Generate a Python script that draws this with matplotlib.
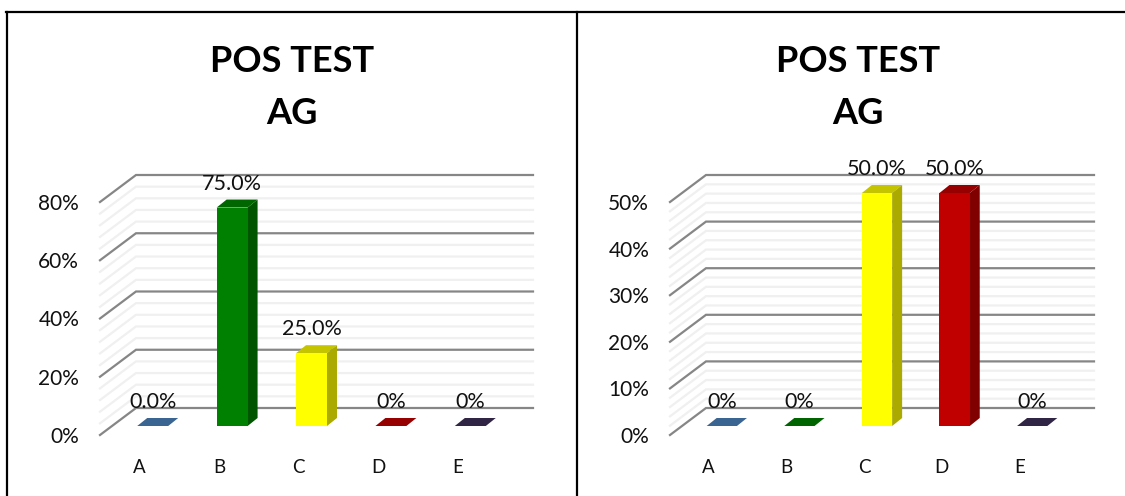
import matplotlib
matplotlib.use("Agg")
import matplotlib.pyplot as plt
from matplotlib.lines import Line2D
from matplotlib.patches import Polygon
from matplotlib.transforms import IdentityTransform

plt.rcParams['font.family'] = ['Lato', 'DejaVu Sans']

TITLE = "POS TEST\nAG"
categories = ["A", "B", "C", "D", "E"]

left_values = [0, 75, 25, 0, 0]
left_labels = ["0.0%", "75.0%", "25.0%", "0%", "0%"]
left_ticks = [0, 20, 40, 60, 80]
left_minor_step = 4

right_values = [0, 0, 50, 50, 0]
right_labels = ["0%", "0%", "50.0%", "50.0%", "0%"]
right_ticks = [0, 10, 20, 30, 40, 50]
right_minor_step = 2

front_colors = ["#4F81BD", "#008000", "#FFFF00", "#C00000", "#403152"]
side_colors = ["#2E5480", "#005500", "#AAAA00", "#800000", "#2B2138"]
top_colors = ["#3A6491", "#006600", "#C4C400", "#960000", "#302545"]
right_top_colors = ["#3A6491", "#006400", "#C4C400", "#960000", "#302545"]

W, H = 1125, 496
DPI = 100
fig = plt.figure(figsize=(W / DPI, H / DPI), dpi=DPI, facecolor="white")


def panel(x0, width, title_x, values, labels, ticks, minor_step, tops):
    y_bottom, y_top = 435, 202
    ax = fig.add_axes([x0 / W, (H - y_bottom) / H, width / W, (y_bottom - y_top) / H])
    ax.set_xlim(-0.5, 4.5)
    ax.set_ylim(0, ticks[-1])
    ax.patch.set_visible(False)
    for s in ax.spines.values():
        s.set_visible(False)
    ax.set_xticks(range(5), categories, fontsize=13.5, color="#111111")
    ax.set_yticks(ticks, [f"{t}%" for t in ticks], fontsize=15, color="#111111")
    ax.tick_params(axis="x", length=0, pad=17.5)
    ax.tick_params(axis="y", length=0, pad=15)

    back_dx, back_dy = 36, 27
    bar_dx, bar_dy = 13, 9
    depth_dx, depth_dy = 10, 8
    bar_w = 0.39

    def wall_line(value, color, lw, z):
        xd, yd = ax.transData.transform((-0.5, value))
        xe, ye = ax.transData.transform((4.5, value))
        fig.add_artist(Line2D([xd, xd + back_dx, xe + back_dx],
                              [yd, yd + back_dy, ye + back_dy],
                              color=color, lw=lw, transform=IdentityTransform(),
                              zorder=z, solid_joinstyle="miter"))

    minors = [v for v in range(0, ticks[-1] + 1, minor_step) if v not in ticks]
    for v in minors:
        wall_line(v, "#F0F0F0", 1.6, 1)
    for v in ticks:
        wall_line(v, "#868686", 1.6, 2)

    for i, v in enumerate(values):
        x_l, y_b = ax.transData.transform((i - bar_w / 2, 0))
        x_r, y_t = ax.transData.transform((i + bar_w / 2, v))
        x_l += bar_dx; x_r += bar_dx; y_b += bar_dy; y_t += bar_dy
        top = [(x_l, y_t), (x_r, y_t), (x_r + depth_dx, y_t + depth_dy), (x_l + depth_dx, y_t + depth_dy)]
        fig.add_artist(Polygon(top, closed=True, fc=tops[i], ec="none",
                               transform=IdentityTransform(), zorder=3))
        if v > 0:
            side = [(x_r, y_b), (x_r + depth_dx, y_b + depth_dy), (x_r + depth_dx, y_t + depth_dy), (x_r, y_t)]
            fig.add_artist(Polygon(side, closed=True, fc=side_colors[i], ec="none",
                                   transform=IdentityTransform(), zorder=3))
            fig.add_artist(Polygon([(x_l, y_b), (x_r, y_b), (x_r, y_t), (x_l, y_t)], closed=True,
                                   fc=front_colors[i], ec="none",
                                   transform=IdentityTransform(), zorder=4))
        fig.text((x_l + x_r) / 2, y_t + 24, labels[i], fontsize=15.5, color="#111111",
                 ha="center", va="center", transform=IdentityTransform(), zorder=5)

    fig.text(title_x, H - 87.5, TITLE, fontsize=26, fontweight="bold", color="black",
             ha="center", va="center", linespacing=1.72, multialignment="center",
             transform=IdentityTransform(), zorder=5)


panel(100, 397, 292, left_values, left_labels, left_ticks, left_minor_step, top_colors)
panel(670, 388, 858, right_values, right_labels, right_ticks, right_minor_step, right_top_colors)

frame = [((7, 7), (496, 12)), ((577, 577), (496, 12)), ((6, 1125), (12, 12))]
for xs, ys in frame:
    fig.add_artist(Line2D(xs, [H - y for y in ys], color="black", lw=1.6,
                          transform=IdentityTransform(), zorder=6))

fig.savefig("out.png", dpi=DPI)
